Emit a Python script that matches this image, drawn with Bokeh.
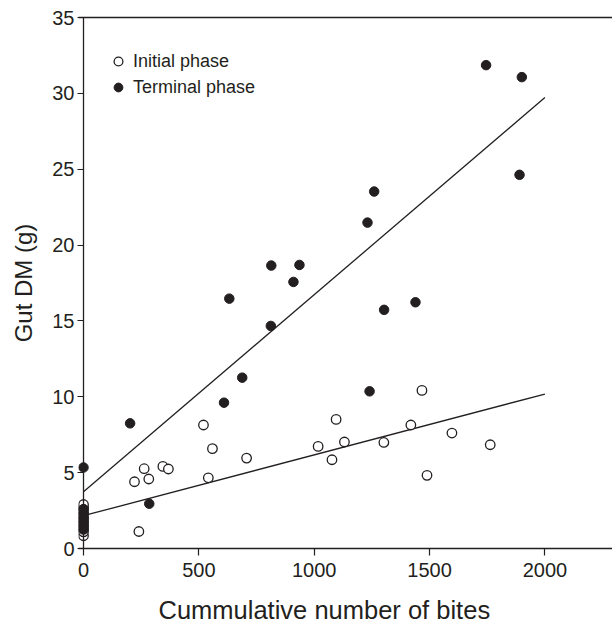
from bokeh.plotting import figure
from bokeh.models import (LinearAxis, FixedTicker, Range1d, Legend, LegendItem,
                          Title, Span, ColumnDataSource)
from bokeh.embed import file_html
from bokeh.resources import INLINE

# ---- data ----
initial_x = [0, 0, 0, 0, 0, 0, 0, 0, 0, 0, 0,
             240, 221, 263, 283, 344, 368, 520, 541, 559, 707,
             1017, 1077, 1095, 1131, 1302, 1419, 1467, 1489, 1597, 1763]
initial_y = [0.84, 1.1, 1.3, 1.5, 1.7, 1.9, 2.1, 2.3, 2.5, 2.7, 2.9,
             1.12, 4.40, 5.26, 4.58, 5.41, 5.24, 8.14, 4.66, 6.58, 5.96,
             6.73, 5.85, 8.51, 7.02, 6.99, 8.14, 10.42, 4.82, 7.61, 6.84]

terminal_x = [0, 0, 0, 0, 0, 0, 0,
              202, 285, 609, 632, 688, 812, 814, 910, 936,
              1231, 1240, 1260, 1303, 1439, 1745, 1890, 1900]
terminal_y = [5.34, 1.25, 1.5, 1.75, 2.0, 2.3, 2.6,
              8.25, 2.95, 9.61, 16.47, 11.26, 14.67, 18.65, 17.57, 18.69,
              21.48, 10.36, 23.53, 15.73, 16.23, 31.86, 24.63, 31.07]

fit_x = [0, 2000]
initial_fit = [2.16, 10.18]
terminal_fit = [3.74, 29.72]

x_ticks = [0, 500, 1000, 1500, 2000]
y_ticks = [0, 5, 10, 15, 20, 25, 30, 35]

FONT = "Liberation Sans"
INK = "#231f20"

p = figure(width=612, height=625,
           x_range=Range1d(-21.7, 2293), y_range=Range1d(0, 35),
           output_backend="svg", toolbar_location=None,
           x_axis_location=None, y_axis_location=None,
           min_border_left=78, min_border_right=0,
           min_border_top=17, min_border_bottom=77)
p.grid.visible = False
p.outline_line_color = None
p.background_fill_color = "white"
p.border_fill_color = "white"

# x axis
xaxis = LinearAxis(ticker=FixedTicker(ticks=x_ticks, minor_ticks=[]))
xaxis.axis_line_color = INK
xaxis.axis_line_width = 1.3
xaxis.major_tick_line_color = INK
xaxis.major_tick_line_width = 1.2
xaxis.major_tick_out = 7
xaxis.major_tick_in = 0
xaxis.minor_tick_line_color = None
xaxis.major_label_text_font = FONT
xaxis.major_label_text_font_size = "20px"
xaxis.major_label_text_color = INK
xaxis.major_label_standoff = 7
p.add_layout(xaxis, "below")

# y axis (its line is drawn at x = 0 by a Span)
yaxis = LinearAxis(ticker=FixedTicker(ticks=y_ticks, minor_ticks=[]))
yaxis.axis_line_color = None
yaxis.major_tick_line_color = INK
yaxis.major_tick_line_width = 1.2
yaxis.major_tick_out = 1
yaxis.major_tick_in = 5
yaxis.minor_tick_line_color = None
yaxis.major_label_text_font = FONT
yaxis.major_label_text_font_size = "20px"
yaxis.major_label_text_color = INK
yaxis.major_label_standoff = 3
yaxis.axis_label = "Gut DM (g)"
yaxis.axis_label_text_font = FONT
yaxis.axis_label_text_font_size = "24px"
yaxis.axis_label_text_font_style = "normal"
yaxis.axis_label_text_color = INK
yaxis.axis_label_standoff = 12
p.add_layout(yaxis, "left")

p.add_layout(Span(location=0, dimension="height", line_color=INK, line_width=1.3))

topaxis = LinearAxis(ticker=FixedTicker(ticks=[], minor_ticks=[]))
topaxis.axis_line_color = INK
topaxis.axis_line_width = 1.3
topaxis.major_tick_line_color = None
topaxis.minor_tick_line_color = None
topaxis.major_label_text_font_size = "0px"
topaxis.major_label_standoff = 0
p.add_layout(topaxis, "above")

# spacer between the x axis and its title, then the title itself
p.add_layout(Title(text=" ", text_font_size="1px", standoff=11), "below")
p.add_layout(Title(text="Cummulative number of bites", align="left", offset=80,
                   text_font=FONT, text_font_size="25.5px",
                   text_font_style="normal", text_color=INK, standoff=0),
             "below")

# regression lines
p.line(fit_x, initial_fit, line_color=INK, line_width=1.3)
p.line(fit_x, terminal_fit, line_color=INK, line_width=1.3)

src_i = ColumnDataSource(dict(x=initial_x, y=initial_y))
src_t = ColumnDataSource(dict(x=terminal_x, y=terminal_y))
r_open = p.scatter("x", "y", source=src_i, size=9.5, marker="circle",
                   fill_color="white", line_color=INK, line_width=1.3)
r_fill = p.scatter("x", "y", source=src_t, size=9.5, marker="circle",
                   fill_color=INK, line_color=INK, line_width=1.0)

legend = Legend(items=[LegendItem(label="Initial phase", renderers=[r_open]),
                       LegendItem(label="Terminal phase", renderers=[r_fill])],
                location=(29, 450), orientation="vertical",
                glyph_width=22, glyph_height=22, label_standoff=4,
                spacing=4, padding=0, margin=0,
                label_text_font=FONT, label_text_font_size="18px",
                label_text_color=INK,
                border_line_color=None, background_fill_alpha=0)
p.add_layout(legend)

open("out.html", "w").write(file_html(p, INLINE))
